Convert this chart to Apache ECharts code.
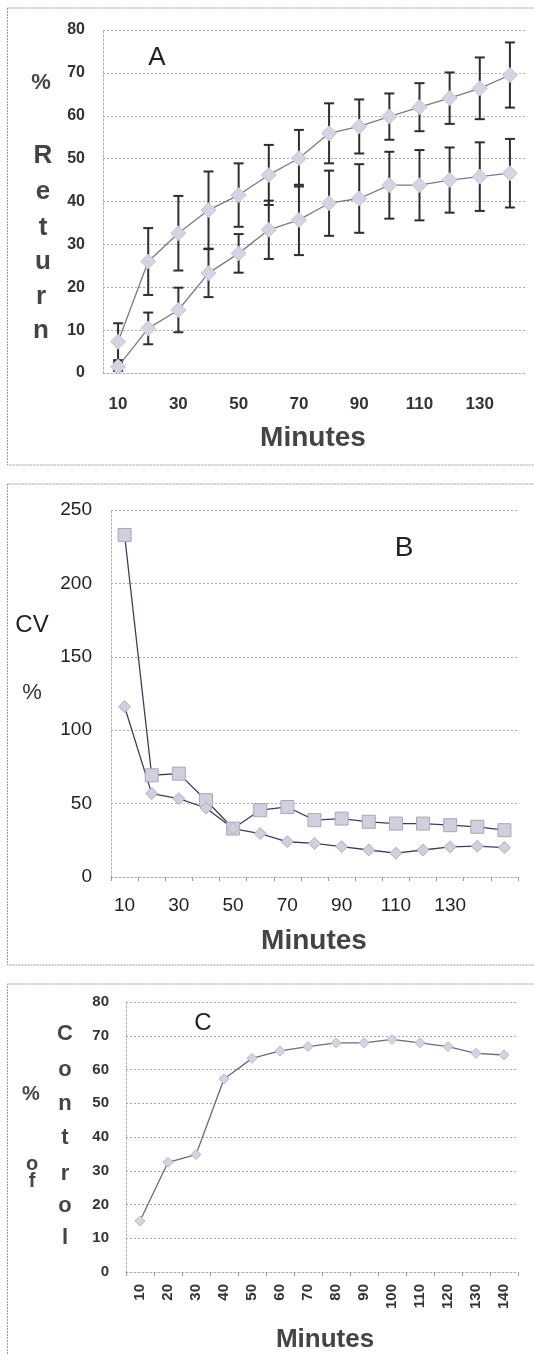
<!DOCTYPE html>
<html>
<head>
<meta charset="utf-8">
<script src="https://cdn.jsdelivr.net/npm/echarts@6/dist/echarts.min.js"></script>
<style>
html,body{margin:0;padding:0;background:#fff;}
#chart{width:534px;height:1355px;}
</style>
</head>
<body>
<div id="chart"></div>
<script>
// ---------- Panel A ----------
const minutesA = ['10','20','30','40','50','60','70','80','90','100','110','120','130','140'];
const aUpper    = [7.3, 26.0, 32.6, 38.0, 41.5, 46.2, 50.1, 55.9, 57.5, 59.8, 62.0, 64.1, 66.4, 69.5];
const aUpperErr = [4.3, 7.8, 8.7, 9.0, 7.4, 7.0, 6.6, 7.0, 6.3, 5.4, 5.6, 6.0, 7.2, 7.6];
const aLower    = [1.5, 10.4, 14.7, 23.3, 27.9, 33.4, 35.7, 39.6, 40.7, 43.8, 43.8, 45.0, 45.8, 46.6];
const aLowerErr = [1.0, 3.7, 5.2, 5.6, 4.5, 6.8, 8.2, 7.6, 8.0, 7.8, 8.2, 7.6, 8.0, 8.0];
// ---------- Panel B ----------
const minutesB = ['10','20','30','40','50','60','70','80','90','100','110','120','130','140','150'];
const bSquares  = [233, 69.3, 70.4, 52.3, 33.0, 45.5, 47.7, 38.7, 39.8, 37.6, 36.4, 36.4, 35.3, 34.2, 31.9];
const bDiamonds = [116, 56.8, 53.4, 47.0, 33.0, 29.6, 24.0, 22.9, 20.7, 18.4, 16.2, 18.4, 20.5, 21.0, 20.0];
// ---------- Panel C ----------
const minutesC = ['10','20','30','40','50','60','70','80','90','100','110','120','130','140'];
const cControl = [15.1, 32.5, 34.8, 57.2, 63.3, 65.5, 66.8, 67.9, 67.9, 68.9, 67.9, 66.8, 64.8, 64.3];

const FONT = '"Liberation Sans", Arial, sans-serif';

function errData(vals, errs){
  return vals.map((v,i)=>[i, v-errs[i], v+errs[i]]);
}
function errRender(params, api){
  const i = api.value(0);
  const lo = api.coord([i, api.value(1)]);
  const hi = api.coord([i, api.value(2)]);
  const cap = 5;
  const st = {stroke:'#2e2e2e', lineWidth:2};
  return {type:'group', children:[
    {type:'line', shape:{x1:lo[0],y1:lo[1],x2:hi[0],y2:hi[1]}, style:st},
    {type:'line', shape:{x1:lo[0]-cap,y1:lo[1],x2:lo[0]+cap,y2:lo[1]}, style:st},
    {type:'line', shape:{x1:hi[0]-cap,y1:hi[1],x2:hi[0]+cap,y2:hi[1]}, style:st}
  ]};
}

const chart = echarts.init(document.getElementById('chart'), null, {renderer:'canvas'});

const gridLine = {show:true, lineStyle:{color:'#a8a8a8', type:[2,2], width:1}};
const axisLn = {show:true, lineStyle:{color:'#b0b0b0', type:[2,2], width:1}};

function txt(x, y, s, size, weight, color){
  return {type:'text', x:x, y:y, z:10, style:{text:s, fontFamily:FONT, fontSize:size, fontWeight:weight||'bold', fill:color||'#333', textAlign:'center', textVerticalAlign:'middle', align:'center', verticalAlign:'middle'}};
}
function frame(y, h){
  return {type:'rect', shape:{x:7.5, y:y, width:540, height:h}, z:-1, style:{fill:'none', stroke:'#9a9a9a', lineWidth:1, lineDash:[2,1]}};
}

const option = {
  animation:false,
  backgroundColor:'#fff',
  grid:[
    {left:103, top:30, width:422, height:343},
    {left:111, top:510, width:407, height:367},
    {left:126, top:1002, width:392, height:270}
  ],
  xAxis:[
    {gridIndex:0, type:'category', data:minutesA, boundaryGap:true,
     axisLine:axisLn, axisTick:{show:false},
     axisLabel:{interval:1, margin:23, fontSize:17, fontWeight:'bold', color:'#333', fontFamily:FONT}},
    {gridIndex:1, type:'category', data:minutesB, boundaryGap:true,
     axisLine:axisLn, axisTick:{show:true, length:4, lineStyle:{color:'#999'}, interval:0},
     axisLabel:{interval:function(i){return i%2===0 && i<14;}, margin:19, fontSize:19, color:'#222', fontFamily:FONT}},
    {gridIndex:2, type:'category', data:minutesC, boundaryGap:true,
     axisLine:axisLn, axisTick:{show:true, length:4, lineStyle:{color:'#999'}, interval:0},
     axisLabel:{interval:0, rotate:90, margin:12, fontSize:15, fontWeight:'bold', color:'#333', fontFamily:FONT}}
  ],
  yAxis:[
    {gridIndex:0, type:'value', min:0, max:80, interval:10,
     axisLine:axisLn, axisTick:{show:false}, splitLine:gridLine,
     axisLabel:{margin:18, fontSize:16, fontWeight:'bold', color:'#333', fontFamily:FONT}},
    {gridIndex:1, type:'value', min:0, max:250, interval:50,
     axisLine:axisLn, axisTick:{show:false}, splitLine:gridLine,
     axisLabel:{margin:19, fontSize:19, color:'#222', fontFamily:FONT}},
    {gridIndex:2, type:'value', min:0, max:80, interval:10,
     axisLine:axisLn, axisTick:{show:false}, splitLine:gridLine,
     axisLabel:{margin:17, fontSize:15, fontWeight:'bold', color:'#333', fontFamily:FONT}}
  ],
  series:[
    {type:'custom', xAxisIndex:0, yAxisIndex:0, data:errData(aUpper, aUpperErr), renderItem:errRender, z:2},
    {type:'custom', xAxisIndex:0, yAxisIndex:0, data:errData(aLower, aLowerErr), renderItem:errRender, z:2},
    {type:'line', xAxisIndex:0, yAxisIndex:0, data:aUpper, symbol:'diamond', symbolSize:15, z:3,
     lineStyle:{color:'#7a7a88', width:1.3}, itemStyle:{color:'#d4d4e2', borderColor:'#c4c4d4', borderWidth:1}},
    {type:'line', xAxisIndex:0, yAxisIndex:0, data:aLower, symbol:'diamond', symbolSize:15, z:3,
     lineStyle:{color:'#7a7a88', width:1.3}, itemStyle:{color:'#d4d4e2', borderColor:'#c4c4d4', borderWidth:1}},
    {type:'line', xAxisIndex:1, yAxisIndex:1, data:bSquares, symbol:'rect', symbolSize:13, z:3,
     lineStyle:{color:'#3c3c5e', width:1.3}, itemStyle:{color:'#cfcfdd', borderColor:'#a8a8b8', borderWidth:1}},
    {type:'line', xAxisIndex:1, yAxisIndex:1, data:bDiamonds, symbol:'diamond', symbolSize:12, z:3,
     lineStyle:{color:'#3c3c5e', width:1.3}, itemStyle:{color:'#cfcfdd', borderColor:'#b0b0c0', borderWidth:1}},
    {type:'line', xAxisIndex:2, yAxisIndex:2, data:cControl, symbol:'diamond', symbolSize:10, z:3,
     lineStyle:{color:'#6a6a80', width:1.3}, itemStyle:{color:'#d4d4e2', borderColor:'#b8b8c8', borderWidth:1}}
  ],
  graphic:[
    frame(8, 457), frame(484, 481), frame(984, 380),
    // Panel A
    txt(157, 58, 'A', 26, 'normal', '#222'),
    txt(41, 83, '%', 22, 'bold', '#444'),
    txt(43, 156, 'R', 26, 'bold', '#444'),
    txt(43, 192, 'e', 26, 'bold', '#444'),
    txt(43, 228, 't', 26, 'bold', '#444'),
    txt(43, 262, 'u', 26, 'bold', '#444'),
    txt(41, 297, 'r', 26, 'bold', '#444'),
    txt(41, 331, 'n', 26, 'bold', '#444'),
    txt(313, 438, 'Minutes', 28, 'bold', '#444'),
    // Panel B
    txt(404, 548, 'B', 28, 'normal', '#222'),
    txt(32, 625, 'CV', 24, 'normal', '#222'),
    txt(32, 693, '%', 22, 'normal', '#333'),
    txt(314, 941, 'Minutes', 28, 'bold', '#444'),
    // Panel C
    txt(203, 1023, 'C', 24, 'normal', '#222'),
    txt(31, 1094, '%', 20, 'bold', '#444'),
    txt(32, 1164, 'o', 20, 'bold', '#444'),
    txt(32, 1181, 'f', 20, 'bold', '#444'),
    txt(65, 1034, 'C', 22, 'bold', '#444'),
    txt(65, 1070, 'o', 22, 'bold', '#444'),
    txt(65, 1104, 'n', 22, 'bold', '#444'),
    txt(65, 1138, 't', 22, 'bold', '#444'),
    txt(65, 1174, 'r', 22, 'bold', '#444'),
    txt(65, 1206, 'o', 22, 'bold', '#444'),
    txt(65, 1238, 'l', 22, 'bold', '#444'),
    txt(325, 1340, 'Minutes', 26, 'bold', '#444')
  ]
};
chart.setOption(option);
</script>
</body>
</html>
